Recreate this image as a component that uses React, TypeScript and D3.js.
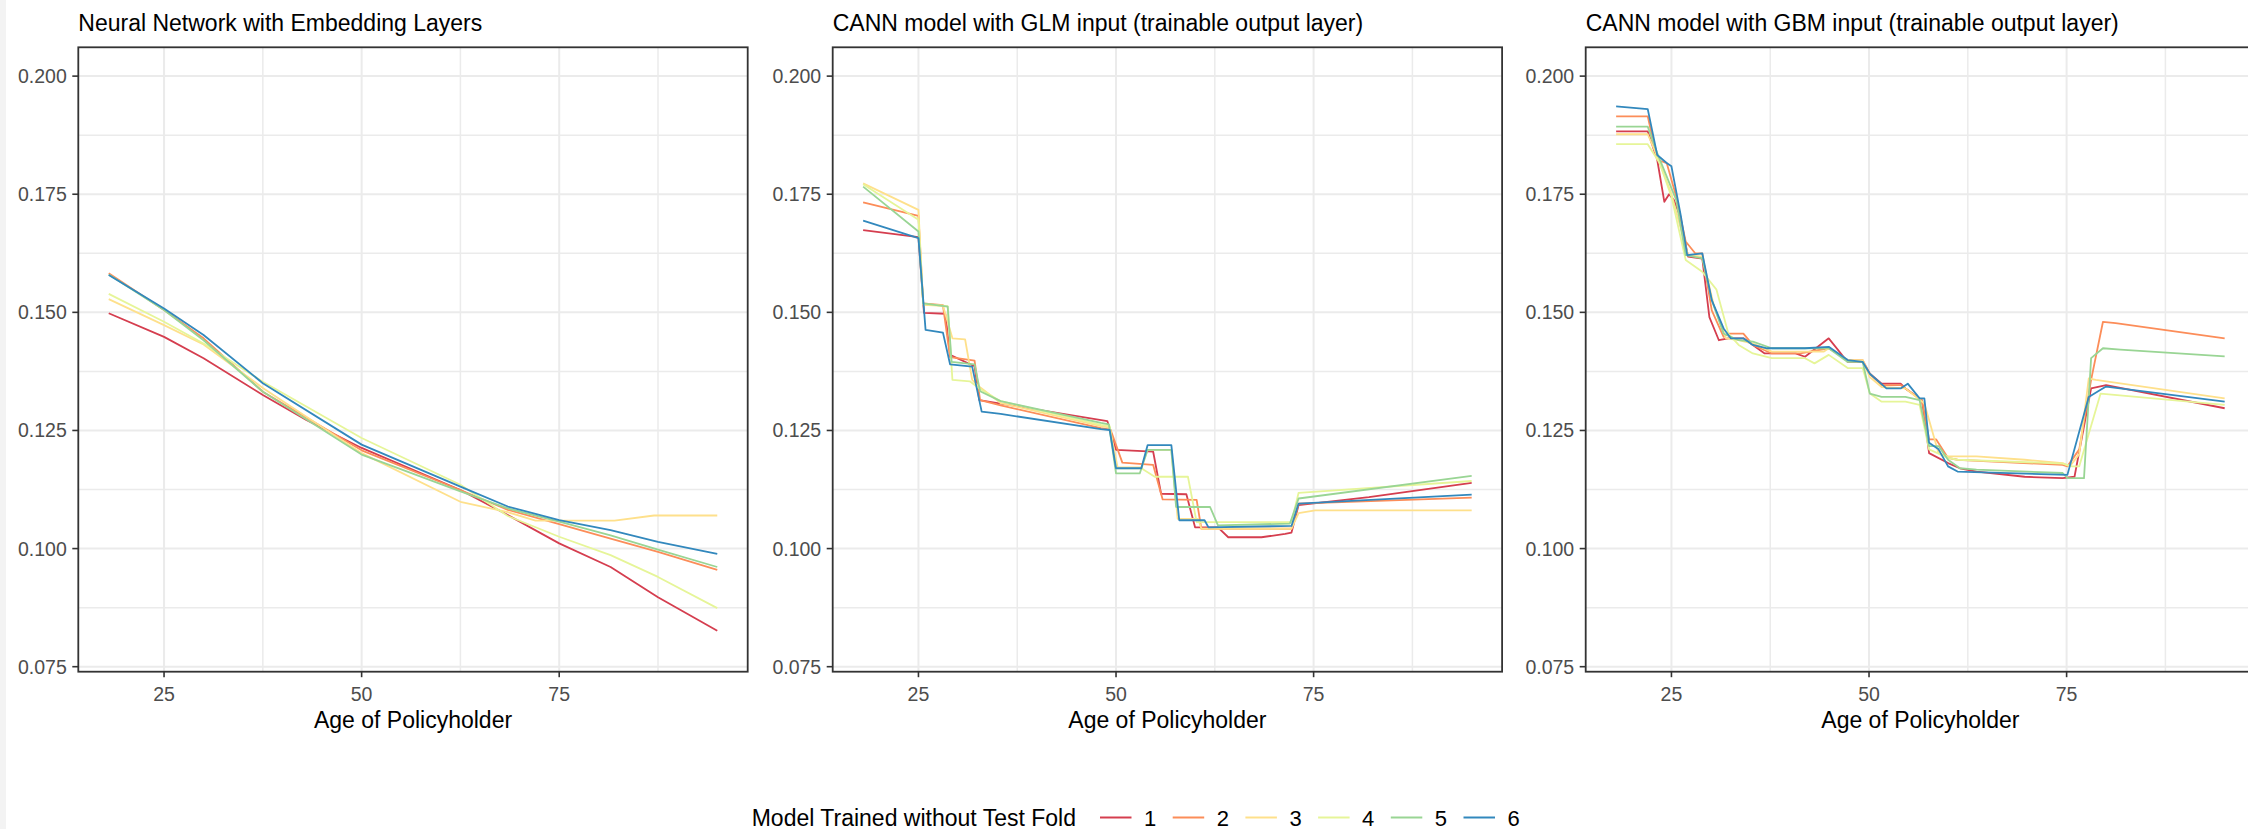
import React from 'react';
import * as d3 from 'd3';

type Pt = [number, number];

const FOLD_LABELS = ['1', '2', '3', '4', '5', '6'];
const FOLD_COLORS = ['#D53E4F', '#FC8D59', '#FEE08B', '#E6F598', '#99D594', '#3288BD'];
const PANEL_TITLES = [
  'Neural Network with Embedding Layers',
  'CANN model with GLM input (trainable output layer)',
  'CANN model with GBM input (trainable output layer)',
];
const X_TITLE = 'Age of Policyholder';
const LEGEND_TITLE = 'Model Trained without Test Fold';
const X_TICKS = [25, 50, 75];
const X_MINOR = [37.5, 62.5, 87.5];
const Y_TICKS = [0.075, 0.1, 0.125, 0.15, 0.175, 0.2];
const Y_MINOR = [0.0875, 0.1125, 0.1375, 0.1625, 0.1875];
const X_DOMAIN: Pt = [14.15, 98.85];
const Y_DOMAIN: Pt = [0.07394, 0.2061];

// Panel 1: Neural network with embedding layers
const nn1: Pt[] = [[18,0.1498],[25,0.1448],[30,0.1403],[37.5,0.1325],[43,0.1272],[50,0.1213],[62.5,0.1124],[68.5,0.1071],[75,0.1011],[81.5,0.0961],[87.5,0.0897],[95,0.0826]];
const nn2: Pt[] = [[18,0.1583],[25,0.1505],[30,0.1445],[37.5,0.1332],[50,0.1208],[62.5,0.1124],[68.5,0.1082],[75,0.1052],[81.5,0.1021],[87.5,0.0993],[95,0.0955]];
const nn3: Pt[] = [[18,0.1528],[25,0.1473],[30,0.1432],[37.5,0.1340],[50,0.1202],[62.5,0.1099],[68.5,0.1077],[72,0.1059],[82,0.1059],[87,0.107],[95,0.107]];
const nn4: Pt[] = [[18,0.1539],[25,0.148],[30,0.1434],[37.5,0.1353],[50,0.1234],[62.5,0.1135],[68.5,0.1069],[75,0.1025],[81.5,0.0986],[87.5,0.094],[95,0.0874]];
const nn5: Pt[] = [[18,0.158],[25,0.1505],[30,0.1441],[37.5,0.1332],[50,0.1199],[62.5,0.1121],[68.5,0.1085],[75,0.1057],[81.5,0.1028],[87.5,0.0998],[95,0.0961]];
const nn6: Pt[] = [[18,0.1579],[25,0.1508],[30,0.1452],[37.5,0.135],[50,0.122],[62.5,0.1131],[68.5,0.1089],[75,0.106],[81.5,0.1039],[87.5,0.1014],[95,0.0989]];

// Panel 2: CANN with GLM input
const glm1: Pt[] = [[18,0.1674],[25,0.1659],[25.7,0.1499],[28.4,0.1497],[29,0.141],[32.1,0.1386],[32.7,0.1314],[35.4,0.1307],[48.9,0.1270],[50,0.1209],[54.7,0.1205],[55.7,0.1116],[58.9,0.1115],[60,0.1045],[62.9,0.1045],[64.2,0.1024],[68.4,0.1024],[71.4,0.1031],[72.2,0.1034],[73.1,0.1092],[82,0.1109],[95,0.1139]];
const glm2: Pt[] = [[18,0.1733],[25,0.1704],[25.6,0.1519],[28.1,0.1515],[29,0.1405],[32.1,0.1398],[32.8,0.1314],[35.4,0.1303],[48.1,0.1255],[49.3,0.1252],[50.8,0.1182],[54.7,0.1177],[55.9,0.1104],[60.2,0.1103],[60.8,0.1042],[72.2,0.1042],[73.1,0.1095],[95,0.1108]];
const glm3: Pt[] = [[18,0.1773],[25,0.1717],[25.6,0.1516],[28.1,0.1514],[29.3,0.1445],[30.9,0.1443],[31.8,0.1357],[32.5,0.1345],[35.4,0.1308],[48.1,0.1259],[49.2,0.1256],[50.2,0.1172],[53.2,0.1172],[54,0.1209],[57,0.1209],[57.8,0.1063],[60.4,0.1063],[60.8,0.1042],[72.2,0.1042],[73.1,0.1075],[75.2,0.1081],[95,0.1081]];
const glm4: Pt[] = [[18,0.1771],[25,0.1696],[25.6,0.1518],[28.7,0.1513],[29.3,0.1357],[31.5,0.1354],[32.7,0.1339],[35.4,0.1312],[48.1,0.1262],[49.2,0.1259],[50,0.117],[53.2,0.117],[54.9,0.1152],[59.1,0.1152],[60.2,0.1056],[72.2,0.1056],[73.1,0.1118],[95,0.1143]];
const glm5: Pt[] = [[18,0.1766],[25,0.1671],[25.6,0.1519],[28.7,0.1512],[29.2,0.1395],[32.1,0.1390],[32.8,0.1333],[35.4,0.1312],[48.1,0.1266],[49.1,0.1263],[50,0.1159],[53,0.1159],[54,0.1209],[57,0.1209],[57.6,0.1088],[61.9,0.1088],[62.9,0.1049],[72,0.1053],[73.1,0.1106],[95,0.1154]];
const glm6: Pt[] = [[18,0.1694],[25,0.1657],[25.9,0.1463],[28.1,0.1457],[29,0.139],[31.8,0.1385],[33,0.129],[35.4,0.1285],[48.1,0.1253],[49.2,0.1251],[50,0.117],[53.2,0.117],[54,0.1219],[57,0.1219],[58,0.106],[61.2,0.106],[61.7,0.1045],[72.2,0.1048],[73.1,0.1095],[95,0.1114]];

// Panel 3: CANN with GBM input
const gbm1: Pt[] = [[18,0.1883],[22,0.1883],[23.2,0.1823],[24.1,0.1734],[24.7,0.175],[25.3,0.1738],[26.1,0.1703],[27.1,0.1618],[28.9,0.1614],[29.8,0.149],[31,0.1441],[32.2,0.1445],[34.1,0.1445],[36.8,0.1413],[40.7,0.1413],[41.9,0.1406],[44.9,0.1445],[47.3,0.1395],[49.2,0.1395],[50.1,0.137],[51.6,0.1349],[54,0.1349],[54.6,0.1339],[56.7,0.1314],[57.6,0.1202],[60,0.1181],[61.5,0.117],[63.6,0.1163],[69.7,0.1152],[74.5,0.1149],[76,0.1152],[78.1,0.1339],[80,0.1346],[95,0.1297]];
const gbm2: Pt[] = [[18,0.1915],[22,0.1915],[23.2,0.1823],[24.4,0.1816],[25.6,0.1745],[26.8,0.165],[28,0.1625],[28.9,0.1625],[30.1,0.1504],[31.6,0.1448],[32.2,0.1455],[34.1,0.1455],[35.3,0.1431],[37.7,0.1413],[41.3,0.1413],[44.9,0.1424],[47.3,0.1399],[49.2,0.1399],[50.1,0.137],[51.6,0.1346],[54,0.1346],[54.6,0.1339],[56.7,0.1314],[57.6,0.1231],[58.5,0.1231],[60,0.1192],[61.2,0.1188],[74.5,0.1177],[75.1,0.1174],[76.6,0.1210],[78.1,0.1357],[79.6,0.148],[81.2,0.1477],[95,0.1445]];
const gbm3: Pt[] = [[18,0.1877],[22,0.1877],[23.2,0.183],[25,0.175],[27.1,0.1621],[28.9,0.1618],[30.4,0.1512],[31.9,0.1445],[33.5,0.1441],[35.3,0.1434],[37.7,0.1417],[44.3,0.1417],[44.9,0.1424],[47.3,0.1399],[49.2,0.1399],[50.1,0.1363],[51.6,0.1342],[54.6,0.1339],[57,0.1307],[58.8,0.1202],[60,0.1195],[63.6,0.1195],[69.7,0.1188],[74.5,0.1181],[75.4,0.1174],[76.6,0.12],[77.8,0.136],[78.7,0.1357],[95,0.1318]];
const gbm4: Pt[] = [[18,0.1856],[22,0.1856],[23.5,0.1816],[25,0.1745],[26.8,0.1611],[28.9,0.1586],[30.7,0.1548],[32.2,0.1455],[33.5,0.1431],[35.3,0.1413],[37.7,0.1403],[41.9,0.1403],[43.1,0.1392],[44.9,0.141],[47.3,0.1382],[49.2,0.1382],[50.1,0.1328],[51.6,0.1311],[54.6,0.1311],[56.4,0.1304],[57.6,0.121],[60,0.1192],[61.2,0.1188],[74.5,0.118],[75.7,0.1174],[76.6,0.1174],[79.3,0.1328],[95,0.1304]];
const gbm5: Pt[] = [[18,0.1893],[22,0.1893],[23.2,0.1837],[25.6,0.1738],[26.8,0.1621],[28.9,0.1614],[30.1,0.1526],[31.6,0.1455],[33.5,0.1441],[35.3,0.1438],[37.7,0.1424],[44.9,0.1424],[47.3,0.1395],[49.2,0.1395],[50.1,0.1328],[51.6,0.1321],[54.6,0.1321],[56.4,0.1314],[57.6,0.1217],[58.8,0.1217],[60,0.1188],[61.5,0.117],[63.6,0.1167],[74.5,0.116],[75.1,0.1149],[77.2,0.1149],[78.1,0.1403],[79.6,0.1424],[81.8,0.1421],[95,0.1407]];
const gbm6: Pt[] = [[18,0.1936],[22,0.193],[23.2,0.1833],[24.4,0.1816],[25,0.1809],[26.2,0.1703],[27,0.1621],[28.9,0.1625],[30.1,0.1526],[31.6,0.1466],[32.5,0.1445],[34.1,0.1445],[35.3,0.1431],[37.1,0.1424],[41.9,0.1424],[44.9,0.1427],[47.3,0.1399],[49.2,0.1395],[50.1,0.137],[52.2,0.1339],[54,0.1339],[54.9,0.1349],[56.4,0.1318],[57,0.1318],[57.6,0.1224],[58.8,0.121],[60,0.1174],[61.2,0.1163],[75.1,0.1156],[77.8,0.1321],[79.3,0.1336],[80,0.1343],[95,0.1311]];

const PANEL_SERIES: Pt[][][] = [
  [nn1, nn2, nn3, nn4, nn5, nn6],
  [glm1, glm2, glm3, glm4, glm5, glm6],
  [gbm1, gbm2, gbm3, gbm4, gbm5, gbm6],
];

const W = 2248;
const H = 829;
const PANEL_LEFTS = [78.3, 832.7, 1585.7];
const PANEL_W = 669.4;
const PANEL_TOP = 47.3;
const PANEL_BOTTOM = 671.7;
const FONT = '"Liberation Sans", Arial, Helvetica, sans-serif';

function Panel({ idx }: { idx: number }) {
  const left = PANEL_LEFTS[idx];
  const x = d3.scaleLinear().domain(X_DOMAIN).range([left, left + PANEL_W]);
  const y = d3.scaleLinear().domain(Y_DOMAIN).range([PANEL_BOTTOM, PANEL_TOP]);
  const line = d3.line<Pt>().x((d) => x(d[0])).y((d) => y(d[1]));
  const clipId = `clip-${idx}`;
  return (
    <g>
      <defs>
        <clipPath id={clipId}>
          <rect x={left} y={PANEL_TOP} width={PANEL_W} height={PANEL_BOTTOM - PANEL_TOP} />
        </clipPath>
      </defs>
      <text x={left} y={31} fontSize={23} fill="#000" fontFamily={FONT}>{PANEL_TITLES[idx]}</text>
      <g clipPath={`url(#${clipId})`}>
        {Y_MINOR.map((v) => (
          <line key={`ym${v}`} x1={left} x2={left + PANEL_W} y1={y(v)} y2={y(v)} stroke="#EBEBEB" strokeWidth={1.5} />
        ))}
        {X_MINOR.map((v) => (
          <line key={`xm${v}`} y1={PANEL_TOP} y2={PANEL_BOTTOM} x1={x(v)} x2={x(v)} stroke="#EBEBEB" strokeWidth={1.5} />
        ))}
        {Y_TICKS.map((v) => (
          <line key={`yM${v}`} x1={left} x2={left + PANEL_W} y1={y(v)} y2={y(v)} stroke="#EBEBEB" strokeWidth={2} />
        ))}
        {X_TICKS.map((v) => (
          <line key={`xM${v}`} y1={PANEL_TOP} y2={PANEL_BOTTOM} x1={x(v)} x2={x(v)} stroke="#EBEBEB" strokeWidth={2} />
        ))}
        {PANEL_SERIES[idx].map((s, i) => (
          <path key={i} d={line(s) || ''} fill="none" stroke={FOLD_COLORS[i]} strokeWidth={1.8} strokeLinejoin="round" />
        ))}
      </g>
      <rect x={left} y={PANEL_TOP} width={PANEL_W} height={PANEL_BOTTOM - PANEL_TOP} fill="none" stroke="#333333" strokeWidth={1.8} />
      {Y_TICKS.map((v) => (
        <g key={`yt${v}`}>
          <line x1={left - 6} x2={left} y1={y(v)} y2={y(v)} stroke="#333333" strokeWidth={1.6} />
          <text x={left - 11.5} y={y(v) + 7} textAnchor="end" fontSize={19.5} fill="#4D4D4D" fontFamily={FONT}>{v.toFixed(3)}</text>
        </g>
      ))}
      {X_TICKS.map((v) => (
        <g key={`xt${v}`}>
          <line x1={x(v)} x2={x(v)} y1={PANEL_BOTTOM} y2={PANEL_BOTTOM + 5.5} stroke="#333333" strokeWidth={1.6} />
          <text x={x(v)} y={701} textAnchor="middle" fontSize={19.5} fill="#4D4D4D" fontFamily={FONT}>{String(v)}</text>
        </g>
      ))}
      <text x={left + PANEL_W / 2} y={727.7} textAnchor="middle" fontSize={23} fill="#000" fontFamily={FONT}>{X_TITLE}</text>
    </g>
  );
}

function Legend() {
  const keyStart = 1100;
  const step = 72.7;
  const cy = 817.5;
  return (
    <g>
      <text x={751.7} y={825.5} fontSize={23} fill="#000" fontFamily={FONT}>{LEGEND_TITLE}</text>
      {FOLD_LABELS.map((lab, i) => (
        <g key={lab}>
          <line x1={keyStart + i * step} x2={keyStart + i * step + 31.5} y1={cy} y2={cy} stroke={FOLD_COLORS[i]} strokeWidth={2} />
          <text x={keyStart + i * step + 44} y={825.5} fontSize={22} fill="#000" fontFamily={FONT}>{lab}</text>
        </g>
      ))}
    </g>
  );
}

export default function App() {
  return (
    <svg width={W} height={H} style={{ position: 'absolute', left: 0, top: 0, display: 'block' }} xmlns="http://www.w3.org/2000/svg">
      <rect x={0} y={0} width={W} height={H} fill="#FFFFFF" />
      <rect x={0} y={0} width={6} height={H} fill="#F3F3F3" />
      {[0, 1, 2].map((i) => (
        <Panel key={i} idx={i} />
      ))}
      <Legend />
    </svg>
  );
}
